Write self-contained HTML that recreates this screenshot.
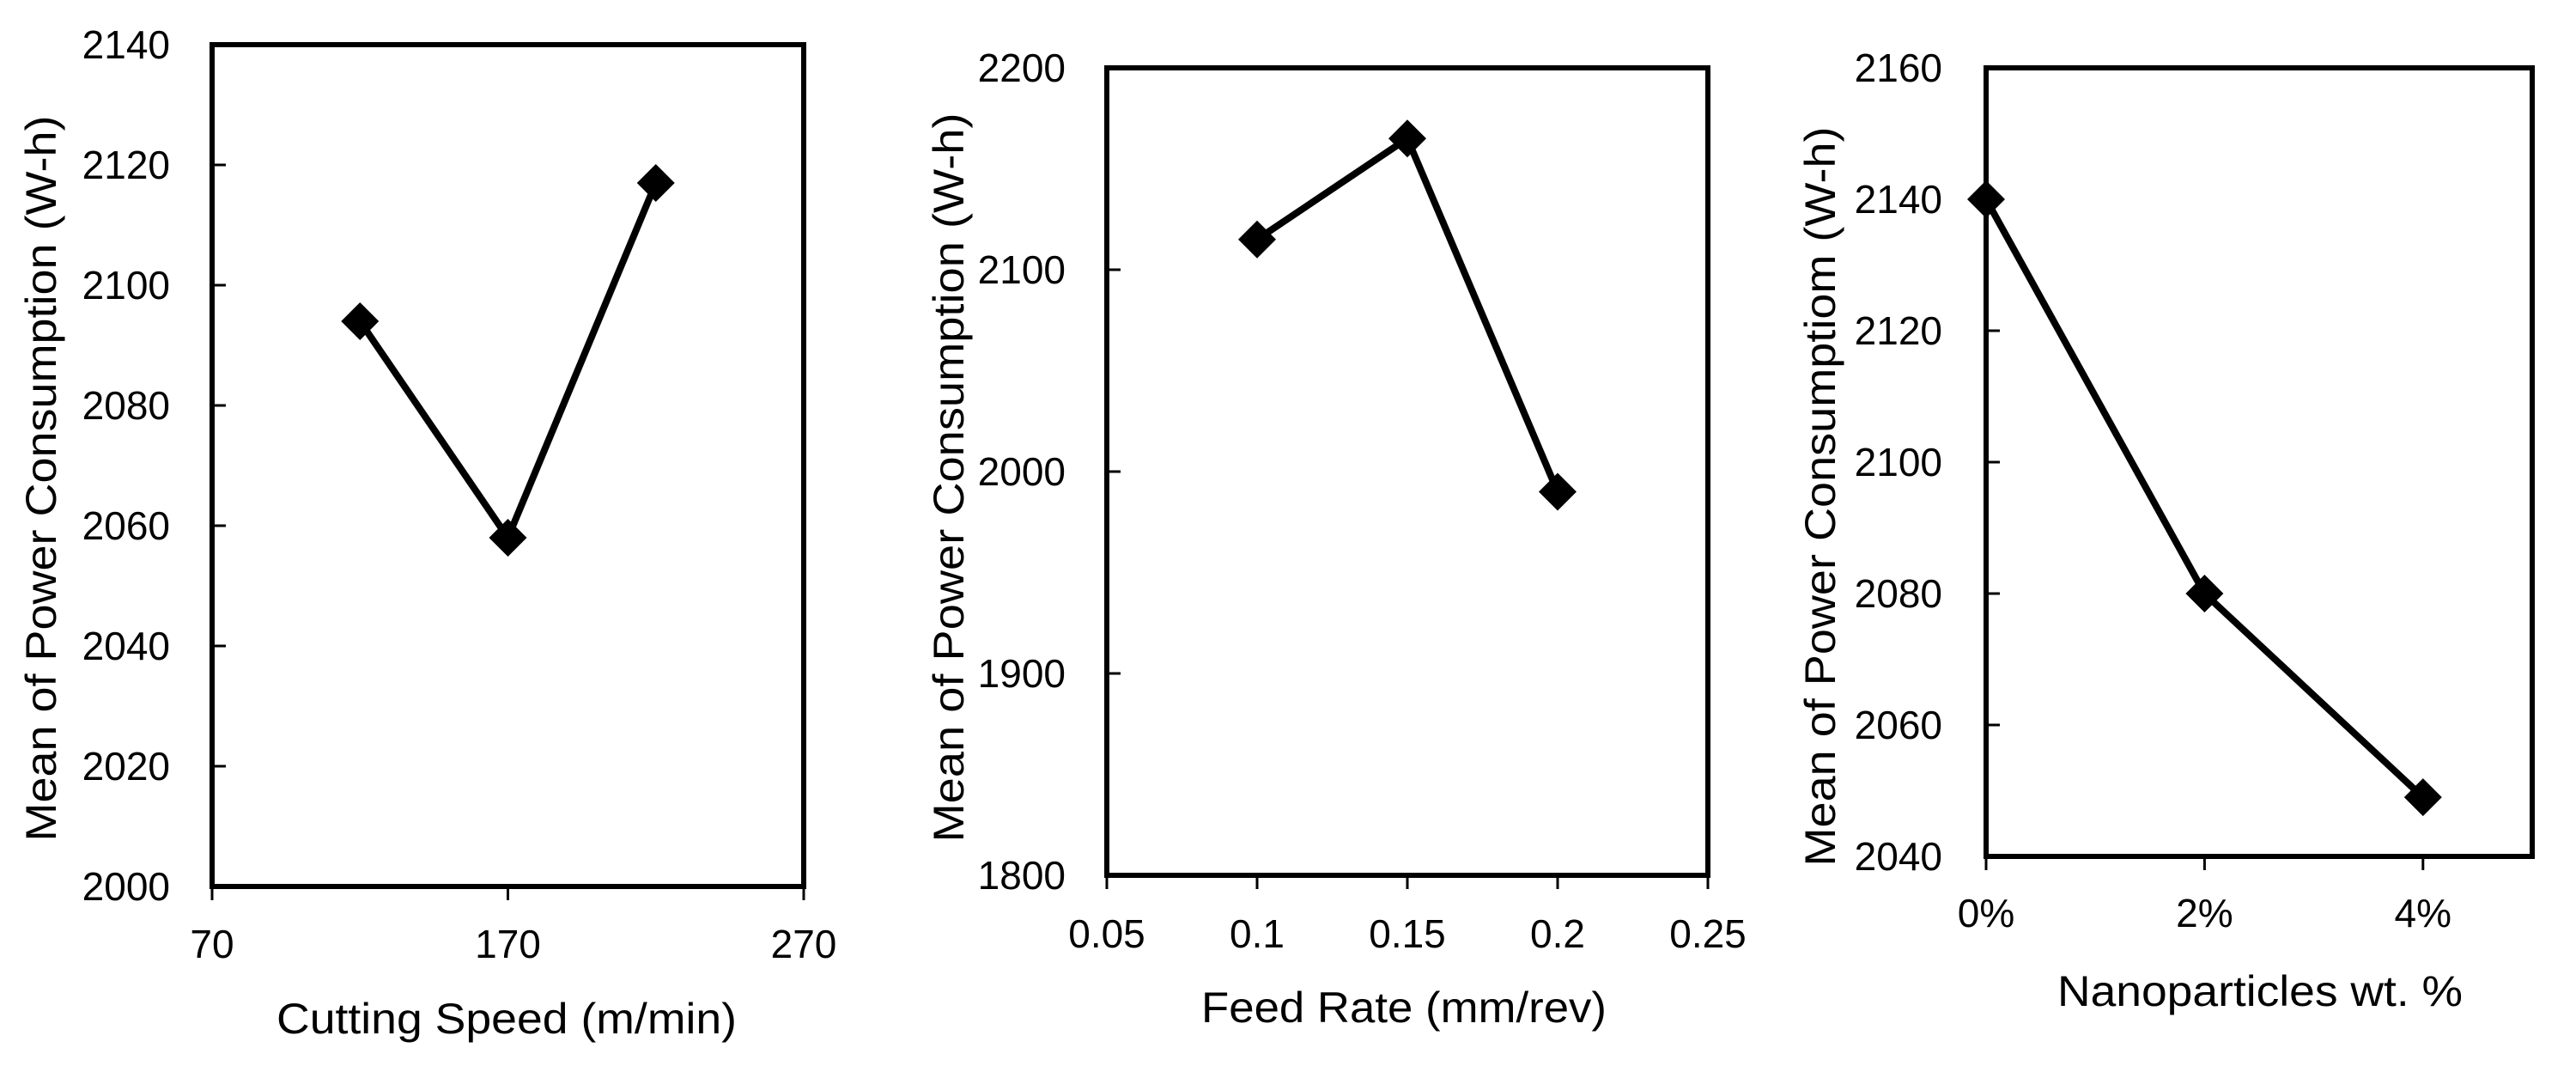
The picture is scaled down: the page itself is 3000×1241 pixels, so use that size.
<!DOCTYPE html>
<html><head><meta charset="utf-8"><style>
html,body{margin:0;padding:0;background:#fff;}
svg{display:block;font-family:"Liberation Sans",sans-serif;}
</style></head><body>
<svg id="chart" width="3000" height="1241" viewBox="0 0 3000 1241" xmlns="http://www.w3.org/2000/svg"></svg>
<script>
// Panel 1 data
const p1Categories = [120, 170, 220];
const p1Values = [2094, 2058, 2117];
const p1XTicks = [70, 170, 270];
const p1YTicks = [2000, 2020, 2040, 2060, 2080, 2100, 2120, 2140];
// Panel 2 data
const p2Categories = [0.1, 0.15, 0.2];
const p2Values = [2115, 2165, 1990];
const p2XTicks = [0.05, 0.1, 0.15, 0.2, 0.25];
const p2YTicks = [1800, 1900, 2000, 2100, 2200];
// Panel 3 data
const p3Categories = [0, 2, 4];
const p3Values = [2140, 2080, 2049];
const p3XTicks = [0, 2, 4];
const p3XTickLabels = ["0%", "2%", "4%"];
const p3YTicks = [2040, 2060, 2080, 2100, 2120, 2140, 2160];

const NS = "http://www.w3.org/2000/svg";
const svg = document.getElementById("chart");
function mk(tag, attrs, parent, text) {
  const e = document.createElementNS(NS, tag);
  for (const k in attrs) e.setAttribute(k, attrs[k]);
  if (text !== undefined) e.textContent = text;
  (parent || svg).appendChild(e);
  return e;
}

function panel(cfg) {
  const g = mk("g", {});
  
  
  const sx = v => cfg.L + (v - cfg.xmin) / (cfg.xmax - cfg.xmin) * (cfg.R - cfg.L);
  const sy = v => cfg.B - (v - cfg.ymin) / (cfg.ymax - cfg.ymin) * (cfg.B - cfg.T);
  // y ticks
  cfg.yTicks.forEach(t => {
    const y = sy(t);
    const tk = mk("line", {x1: cfg.L, x2: cfg.L + 16, y1: y, y2: y, stroke: "#000", "stroke-width": 3}, g);
    
    
    const lb = mk("text", {x: cfg.yLabelRight, y: y + 16, "text-anchor": "end", "font-size": 46, fill: "#000"}, g, String(t));
    
    
  });
  // x ticks
  cfg.xTicks.forEach((t, i) => {
    const x = sx(t);
    const tk = mk("line", {x1: x, x2: x, y1: cfg.B, y2: cfg.B + 16, stroke: "#000", "stroke-width": 3}, g);
    
    
    const lb = mk("text", {x: x, y: cfg.xLabelY, "text-anchor": "middle", "font-size": 46, fill: "#000"}, g, cfg.xTickLabels ? cfg.xTickLabels[i] : String(t));
    
    
  });
  // frame
  const fr = mk("rect", {x: cfg.L, y: cfg.T, width: cfg.R - cfg.L, height: cfg.B - cfg.T, fill: "none", stroke: "#000", "stroke-width": 6}, g);
  
  
  // line
  const pts = cfg.cats.map((c, i) => sx(c) + "," + sy(cfg.vals[i])).join(" ");
  const pl = mk("polyline", {points: pts, fill: "none", stroke: "#000", "stroke-width": 8, "stroke-linejoin": "miter"}, g);
  
  
  cfg.cats.forEach((c, i) => {
    const x = sx(c), y = sy(cfg.vals[i]), d = 22;
    const m = mk("polygon", {points: `${x},${y-d} ${x+d},${y} ${x},${y+d} ${x-d},${y}`, fill: "#000"}, g);
    
    
  });
  // titles
  const xt = mk("text", {x: cfg.xTitleX, y: cfg.xTitleY, "text-anchor": "middle", "font-size": 50, fill: "#000", textLength: cfg.xTitleLen, lengthAdjust: "spacingAndGlyphs"}, g, cfg.xTitle);
  
  
  const yt = mk("text", {x: 0, y: 0, "text-anchor": "middle", "dominant-baseline": "central", "font-size": 50, fill: "#000", textLength: cfg.yTitleLen, lengthAdjust: "spacingAndGlyphs", transform: `translate(${cfg.yTitleX},${cfg.yTitleY}) rotate(-90)`}, g, cfg.yTitle);
  
  
}

panel({name: "cutting-speed-panel", L: 247, R: 936, T: 52, B: 1032, xmin: 70, xmax: 270, ymin: 2000, ymax: 2140,
  cats: p1Categories, vals: p1Values, xTicks: p1XTicks, yTicks: p1YTicks, yLabelRight: 198, xLabelY: 1115,
  xTitle: "Cutting Speed (m/min)", xTitleX: 590, xTitleY: 1203, xTitleLen: 536,
  yTitle: "Mean of Power Consumption (W-h)", yTitleX: 48, yTitleY: 557, yTitleLen: 845});
panel({name: "feed-rate-panel", L: 1289, R: 1989, T: 79, B: 1019, xmin: 0.05, xmax: 0.25, ymin: 1800, ymax: 2200,
  cats: p2Categories, vals: p2Values, xTicks: p2XTicks, yTicks: p2YTicks, yLabelRight: 1241, xLabelY: 1103,
  xTitle: "Feed Rate (mm/rev)", xTitleX: 1635, xTitleY: 1190, xTitleLen: 472,
  yTitle: "Mean of Power Consumption (W-h)", yTitleX: 1105, yTitleY: 556, yTitleLen: 849});
panel({name: "nanoparticles-panel", L: 2313, R: 2949, T: 79, B: 997, xmin: 0, xmax: 5, ymin: 2040, ymax: 2160,
  cats: p3Categories, vals: p3Values, xTicks: p3XTicks, xTickLabels: p3XTickLabels, yTicks: p3YTicks, yLabelRight: 2262, xLabelY: 1079,
  xTitle: "Nanoparticles wt. %", xTitleX: 2632, xTitleY: 1171, xTitleLen: 472,
  yTitle: "Mean of Power Consumptiom (W-h)", yTitleX: 2120, yTitleY: 578, yTitleLen: 861});
</script>
</body></html>
